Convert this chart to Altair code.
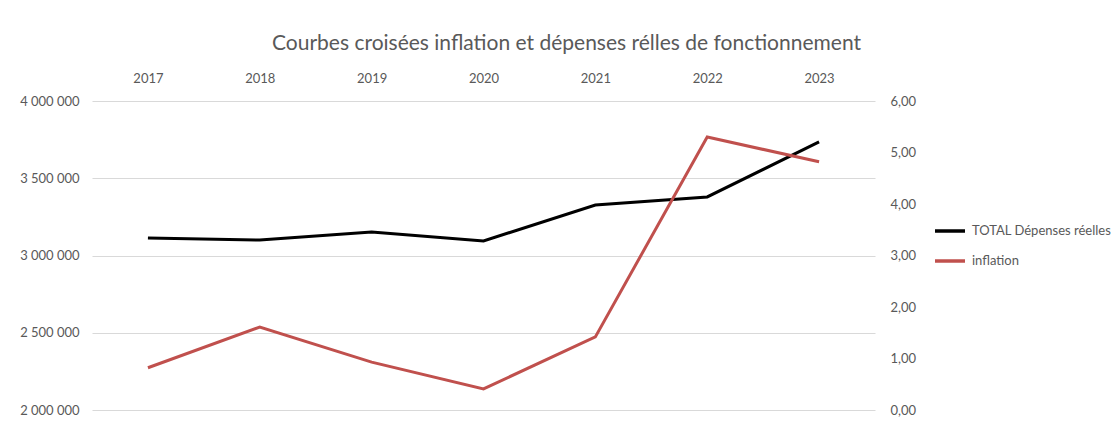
import altair as alt
import pandas as pd

years = ["2017", "2018", "2019", "2020", "2021", "2022", "2023"]
depenses = [3113000, 3100000, 3152000, 3094000, 3327000, 3379000, 3735000]
inflation = [0.82, 1.61, 0.93, 0.41, 1.42, 5.30, 4.82]
series = ["TOTAL Dépenses réelles", "inflation"]
colors = ["#000000", "#C0504D"]
left_ticks = [2000000, 2500000, 3000000, 3500000, 4000000]
right_ticks = [0, 1, 2, 3, 4, 5, 6]

df = pd.DataFrame({"annee": years, "depenses": depenses, "inflation": inflation})

FONT = "Lato"
GREY = "#595959"

color_scale = alt.Scale(domain=series, range=colors)

x_enc = alt.X(
    "annee:O",
    sort=years,
    title=None,
    axis=alt.Axis(orient="top", domain=False, ticks=False, grid=False, labelAngle=0,
                  domainColor="white", gridColor="white", gridOpacity=0,
                  labelPadding=16, labelFontSize=13, labelColor=GREY, labelFont=FONT),
)

base = alt.Chart(df)

l1 = base.transform_calculate(serie=f"'{series[0]}'").mark_line(strokeWidth=3).encode(
    x=x_enc,
    y=alt.Y("depenses:Q", title=None,
            scale=alt.Scale(domain=[2000000, 4000000], nice=False, zero=False),
            axis=alt.Axis(orient="left", values=left_ticks, format=",.0f", grid=True,
                          gridColor="#D9D9D9", gridWidth=1, domain=False, ticks=False,
                          domainColor="white",
                          labelPadding=13, labelFontSize=13, labelColor=GREY, labelFont=FONT)),
    color=alt.Color("serie:N", scale=color_scale, title=None,
                    legend=alt.Legend(orient="none", legendX=841, legendY=113,
                                      symbolType="stroke", symbolSize=900,
                                      symbolStrokeWidth=3.5, labelOffset=5,
                                      rowPadding=6, labelFontSize=13, labelColor=GREY,
                                      labelFont=FONT)),
)

l2 = base.transform_calculate(serie=f"'{series[1]}'").mark_line(strokeWidth=3).encode(
    x=x_enc,
    y=alt.Y("inflation:Q", title=None,
            scale=alt.Scale(domain=[0, 6], nice=False),
            axis=alt.Axis(orient="right", values=right_ticks, format=".2f", grid=False,
                          domain=False, ticks=False, domainColor="white",
                          labelPadding=15, labelFontSize=13,
                          labelColor=GREY, labelFont=FONT)),
    color=alt.Color("serie:N", scale=color_scale, title=None),
)

chart = (
    alt.layer(l1, l2)
    .resolve_scale(y="independent")
    .properties(
        width=783,
        height=309,
        padding={"left": 92, "top": 101, "right": 243, "bottom": 13},
        autosize=alt.AutoSizeParams(type="none"),
        background="white",
        view=alt.ViewBackground(stroke="transparent", strokeWidth=0),
        title=alt.TitleParams(
            "Courbes croisées inflation et dépenses rélles de fonctionnement",
            anchor="middle", dx=83, offset=18, fontSize=21, font=FONT,
            fontWeight="normal", color=GREY,
        ),
    )
    .configure_view(stroke="transparent", strokeWidth=0)
    .configure_axis(domain=False, domainOpacity=0)
    .configure(locale={"number": {"decimal": ",", "thousands": "\u202f",
                                  "grouping": [3], "currency": ["", " €"]}})
)

chart.save("out.html", embed_options={"renderer": "svg", "actions": False})
